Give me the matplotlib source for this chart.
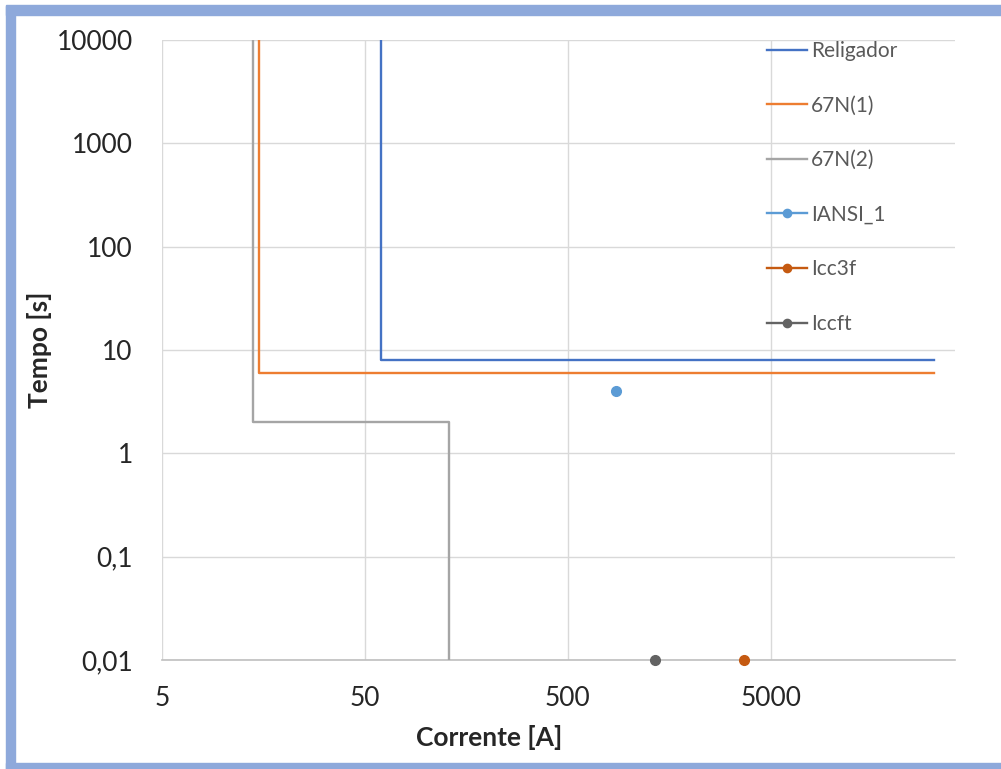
import matplotlib
matplotlib.use("Agg")
import matplotlib.pyplot as plt
from matplotlib.patches import Rectangle

# Data (current in A, time in s)
religador_x = [60, 60, 32000]
religador_y = [10000, 8, 8]
n67_1_x = [15, 15, 32000]
n67_1_y = [10000, 6, 6]
n67_2_x = [14, 14, 130, 130]
n67_2_y = [10000, 2, 2, 0.01]
iansi_x = [860]
iansi_y = [4]
icc3f_x = [3700]
icc3f_y = [0.01]
iccft_x = [1350]
iccft_y = [0.01]

x_ticks = [5, 50, 500, 5000]
x_ticklabels = ["5", "50", "500", "5000"]
y_ticks = [0.01, 0.1, 1, 10, 100, 1000, 10000]
y_ticklabels = ["0,01", "0,1", "1", "10", "100", "1000", "10000"]

plt.rcParams['font.family'] = ['Lato', 'DejaVu Sans']

W, H = 1001, 769
fig = plt.figure(figsize=(W / 100, H / 100), dpi=100)
fig.patch.set_facecolor('white')

# blue frame
border = '#8EA9DB'
fig.add_artist(Rectangle((6 / W, 1 - 15 / H), 1 - 6 / W, 10 / H, transform=fig.transFigure, color=border, zorder=0))
fig.add_artist(Rectangle((6 / W, 0), 9 / W, 1 - 6 / H, transform=fig.transFigure, color=border, zorder=0))
fig.add_artist(Rectangle((6 / W, 0), 1 - 6 / W, 6 / H, transform=fig.transFigure, color=border, zorder=0))

left, right, top, bottom = 162, 955, 40, 660
ax = fig.add_axes([left / W, 1 - bottom / H, (right - left) / W, (bottom - top) / H])
ax.set_xscale('log')
ax.set_yscale('log')
ax.set_xlim(5, 40400)
ax.set_ylim(0.01, 10000)

ax.plot(religador_x, religador_y, color='#4472C4', lw=1.7, label='Religador', zorder=3)
ax.plot(n67_1_x, n67_1_y, color='#ED7D31', lw=1.7, label='67N(1)', zorder=3)
ax.plot(n67_2_x, n67_2_y, color='#A5A5A5', lw=1.7, label='67N(2)', zorder=3)
ax.plot(iansi_x, iansi_y, color='#5B9BD5', lw=1.7, marker='o', ms=7, label='IANSI_1', zorder=4, clip_on=False)
ax.plot(icc3f_x, icc3f_y, color='#C55A11', lw=1.7, marker='o', ms=7, label='Icc3f', zorder=4, clip_on=False)
ax.plot(iccft_x, iccft_y, color='#636363', lw=1.7, marker='o', ms=7, label='Iccft', zorder=4, clip_on=False)

ax.set_xticks(x_ticks)
ax.set_xticklabels(x_ticklabels)
ax.set_yticks(y_ticks)
ax.set_yticklabels(y_ticklabels)
ax.minorticks_off()
ax.tick_params(axis='both', length=0, labelsize=19, labelcolor='#262626')
ax.tick_params(axis='x', pad=19)
ax.tick_params(axis='y', pad=21)
ax.grid(True, which='major', color='#D9D9D9', lw=1)
for s in ['top', 'right', 'left']:
    ax.spines[s].set_visible(False)
ax.spines['bottom'].set_color('#BFBFBF')
ax.spines['bottom'].set_linewidth(1.2)

fig.text(489 / W, 1 - 737 / H, 'Corrente [A]', ha='center', va='center', fontsize=19, color='#262626', fontweight='bold')
fig.text(39 / W, 1 - 350 / H, 'Tempo [s]', ha='center', va='center', rotation=90, fontsize=19, color='#262626', fontweight='bold')

leg = ax.legend(loc='upper left', bbox_to_anchor=(767 / W, 1 - 41 / H), bbox_transform=fig.transFigure,
                frameon=False, fontsize=15, handlelength=1.92, handletextpad=0.2, labelspacing=1.66,
                borderpad=0, borderaxespad=0, markerscale=0.85)
for t in leg.get_texts():
    t.set_color('#595959')

fig.savefig('out.png', dpi=100, facecolor='white')
